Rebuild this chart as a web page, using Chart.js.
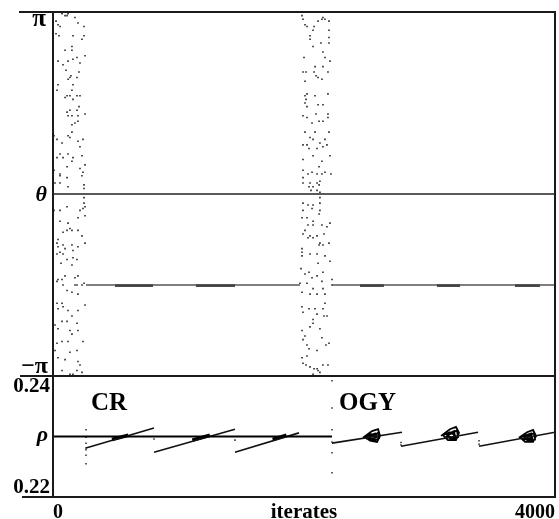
<!DOCTYPE html>
<html><head><meta charset="utf-8">
<script src="https://cdn.jsdelivr.net/npm/chart.js@4/dist/chart.umd.min.js"></script>
<style>
html,body{margin:0;padding:0;background:#fff;}
#wrap{position:relative;width:559px;height:519px;overflow:hidden;}
canvas{position:absolute;left:0;top:0;}
</style></head><body>
<div id="wrap"><canvas id="bot" width="559" height="519"></canvas><canvas id="top" width="559" height="519"></canvas></div>
<script>
// ---------------- DATA ----------------
const xTickValues = [0, 4000];
const xTickLabels = ['0', '4000'];
const xTitle = 'iterates';
const thetaTickValues = [1, 0, -1];          // theta in units of pi
const thetaTickLabels = ['π', 'θ', '−π'];
const rhoTickValues = [0.24, 0.23, 0.22];
const rhoTickLabels = ['0.24', 'ρ', '0.22'];
const phaseLabels = ['CR', 'OGY'];

// chaotic transient, theta/pi vs iterate
const thetaChaosA = [
[72,0.99],[96,0.98],[112,0.98],[120,0.99],[175,0.97],[24,0.95],[40,0.93],[56,0.92],[199,0.94],[247,0.92],
[24,0.88],[48,0.87],[159,0.87],[231,0.85],[247,0.87],[151,0.81],[151,0.79],[96,0.79],[191,0.75],[159,0.74],
[255,0.76],[40,0.73],[80,0.71],[120,0.73],[215,0.72],[104,0.68],[207,0.67],[135,0.64],[120,0.63],[191,0.64],
[143,0.65],[40,0.60],[159,0.60],[32,0.57],[151,0.57],[112,0.54],[135,0.54],[191,0.54],[215,0.54],[96,0.53],
[159,0.52],[207,0.48],[135,0.46],[191,0.46],[112,0.45],[120,0.43],[199,0.43],[255,0.44],[151,0.43],[199,0.40],
[175,0.39],[151,0.38],[151,0.34],[120,0.32],[135,0.31],[8,0.32],[32,0.30],[72,0.28],[199,0.29],[239,0.30],
[215,0.26],[56,0.22],[120,0.22],[231,0.21],[32,0.20],[80,0.20],[159,0.20],[151,0.18],[112,0.15],[255,0.16],
[215,0.14],[8,0.13],[239,0.12],[56,0.11],[56,0.10],[231,0.10],[112,0.09],[16,0.06],[56,0.06],[247,0.05],
[120,0.04],[247,0.03],[247,-0.02],[247,-0.05],[112,-0.07],[255,-0.07],[8,-0.09],[239,-0.08],[215,-0.09],[56,-0.09],
[255,-0.12],[199,-0.13],[56,-0.15],[120,-0.16],[135,-0.19],[112,-0.20],[199,-0.20],[151,-0.20],[80,-0.21],[231,-0.23],
[40,-0.25],[32,-0.27],[255,-0.27],[151,-0.28],[80,-0.28],[199,-0.29],[40,-0.29],[96,-0.30],[159,-0.31],[56,-0.32],
[80,-0.33],[32,-0.33],[64,-0.38],[112,-0.36],[159,-0.35],[191,-0.36],[151,-0.39],[40,-0.47],[72,-0.47],[32,-0.48],
[96,-0.45],[175,-0.46],[199,-0.45],[80,-0.50],[175,-0.50],[191,-0.50],[231,-0.50],[247,-0.49],[112,-0.53],[151,-0.54],
[199,-0.55],[32,-0.60],[72,-0.60],[80,-0.62],[40,-0.63],[120,-0.64],[255,-0.61],[199,-0.64],[151,-0.67],[16,-0.72],
[72,-0.70],[112,-0.70],[191,-0.71],[40,-0.74],[135,-0.75],[199,-0.75],[151,-0.77],[72,-0.81],[120,-0.81],[32,-0.82],
[239,-0.81],[16,-0.86],[135,-0.87],[191,-0.86],[40,-0.90],[96,-0.91],[199,-0.92],[215,-0.94],[72,-0.97],[191,-0.97],
[231,-0.98],[135,-0.99],[159,-0.99]
];
const thetaChaosB = [
[1984,0.98],[1992,0.96],[2112,0.95],[2151,0.97],[2167,0.96],[2143,0.96],[2199,0.95],[2008,0.93],[2024,0.92],[2080,0.92],
[2072,0.90],[2199,0.90],[2048,0.87],[2199,0.86],[2048,0.85],[2135,0.83],[2199,0.83],[2072,0.81],[2151,0.78],[2167,0.75],
[2000,0.75],[2207,0.73],[2088,0.70],[2151,0.70],[1992,0.67],[2016,0.67],[2080,0.67],[2191,0.67],[2096,0.65],[2112,0.64],
[2008,0.62],[2143,0.63],[2008,0.54],[2024,0.55],[2088,0.54],[2191,0.55],[2016,0.52],[2008,0.50],[2112,0.49],[2151,0.49],
[2024,0.48],[2191,0.44],[2096,0.44],[1992,0.43],[2024,0.42],[2191,0.42],[2064,0.39],[2120,0.40],[2151,0.40],[2008,0.34],
[2088,0.34],[2199,0.34],[2048,0.31],[2072,0.30],[2167,0.30],[2127,0.28],[2151,0.26],[1992,0.27],[2024,0.27],[2183,0.27],
[2040,0.25],[2104,0.25],[2072,0.21],[2207,0.21],[1992,0.19],[2143,0.18],[2120,0.15],[1992,0.13],[2032,0.11],[2064,0.12],
[2104,0.11],[2143,0.11],[2167,0.12],[2215,0.11],[1992,0.09],[2048,0.06],[2127,0.07],[1992,0.06],[2040,0.04],[2072,0.04],
[2104,0.06],[2120,0.05],[2056,0.02],[2104,0.02],[2127,0.01],[2127,-0.02],[1992,-0.05],[2032,-0.06],[2072,-0.06],[2127,-0.05],
[1992,-0.09],[2064,-0.08],[2127,-0.09],[2120,-0.11],[1984,-0.13],[2024,-0.13],[2072,-0.15],[2032,-0.17],[2072,-0.17],[2143,-0.17],
[2183,-0.18],[2207,-0.16],[2008,-0.20],[1992,-0.22],[2048,-0.23],[2104,-0.23],[2159,-0.22],[2032,-0.24],[2072,-0.24],[2127,-0.27],
[2199,-0.27],[2120,-0.28],[2151,-0.28],[1984,-0.30],[1984,-0.32],[2048,-0.33],[2104,-0.33],[1984,-0.34],[2167,-0.34],[2207,-0.37],
[2112,-0.38],[1976,-0.41],[2040,-0.43],[2151,-0.43],[2008,-0.44],[2104,-0.45],[2064,-0.46],[2143,-0.48],[2223,-0.47],[1968,-0.49],
[2024,-0.49],[2072,-0.52],[2151,-0.52],[2223,-0.50],[1984,-0.54],[2048,-0.55],[2104,-0.55],[2167,-0.55],[2167,-0.60],[1984,-0.62],
[2040,-0.63],[2088,-0.63],[2151,-0.63],[1992,-0.65],[2104,-0.66],[2159,-0.67],[2183,-0.67],[2072,-0.69],[2072,-0.71],[2127,-0.74],
[2048,-0.73],[1984,-0.75],[2008,-0.78],[2143,-0.79],[1992,-0.80],[2024,-0.83],[2040,-0.85],[2175,-0.83],[2199,-0.82],[2104,-0.86],
[1984,-0.90],[2024,-0.89],[1992,-0.93],[2016,-0.94],[2048,-0.95],[2080,-0.96],[2104,-0.96],[2112,-0.97],[2151,-0.94],[2191,-0.94],
[2072,-0.99],[2127,-0.98]
];
// controlled theta (units of pi)
const thetaLocked = [[263,-0.5],[1968,-0.5],null,[2223,-0.5],[4000,-0.5]];
const thetaLockedDense = [[494,-0.503],[797,-0.503],null,[1139,-0.503],[1450,-0.503],null,
  [2446,-0.503],[2637,-0.503],null,[3059,-0.503],[3243,-0.503],null,[3681,-0.503],[3880,-0.503]];

// rho
const rhoTarget = [[0,0.23],[2223,0.23]];
const rhoCR = [[263,0.2281],[805,0.2314],null,[805,0.2274],[1450,0.2312],null,[1450,0.2274],[1960,0.2306]];
const rhoCRDense = [[470,0.2295],[600,0.2302],null,[1110,0.2294],[1250,0.2302],null,[1750,0.2295],[1860,0.2302]];
const rhoOGY = [[2223,0.2289],[2781,0.2307],null,[2773,0.2284],[3387,0.2307],null,[3395,0.2284],[4000,0.2307]];
const rhoOGYLoopA = [[2470,0.2298],[2542,0.2309],[2590,0.2312],[2606,0.2301],[2582,0.2291],[2526,0.2293],[2486,0.2299],[2534,0.2304],[2574,0.2303],[2558,0.2294],[2510,0.2296],[2542,0.2301],[2590,0.2306],[2598,0.2297],[2550,0.2292],[2520,0.2300],[2566,0.2305],[2580,0.2299],[2540,0.2296]];
const rhoOGYLoopB = [[3092,0.2301],[3163,0.2312],[3211,0.2316],[3235,0.2306],[3211,0.2294],[3147,0.2294],[3108,0.2302],[3163,0.2307],[3203,0.2302],[3179,0.2298],[3131,0.2299],[3163,0.2304],[3219,0.2310],[3227,0.2299],[3171,0.2295],[3139,0.2303],[3195,0.2309],[3205,0.2297],[3155,0.2300]];
const rhoOGYLoopC = [[3713,0.2298],[3777,0.2307],[3825,0.2311],[3849,0.2301],[3825,0.2291],[3761,0.2291],[3721,0.2299],[3777,0.2302],[3817,0.2299],[3793,0.2294],[3745,0.2296],[3777,0.2299],[3833,0.2306],[3841,0.2295],[3785,0.2292],[3753,0.2301],[3809,0.2305],[3819,0.2296],[3769,0.2297]];
const rhoDots = [[263,0.2311],[263,0.2299],[263,0.2289],[263,0.2281],[263,0.2278],[263,0.2269],[263,0.2255],
  [805,0.2296],[1450,0.2294],
  [2223,0.2392],[2223,0.2347],[2223,0.2311],[2223,0.2291],[2223,0.2273],[2223,0.2240],
  [2773,0.2290],[2773,0.2286],[3395,0.2293],[3395,0.2287]];

// ------------- placement (not data) -------------
const phasePos = [{iter:303, rho:0.2344}, {iter:2279, rho:0.2344}];

// ---------------- helpers ----------------
function toPts(arr){
  const out=[]; let lastX=0;
  for(const p of arr){ if(p===null){ out.push({x:lastX, y:null}); } else { lastX=p[0]; out.push({x:p[0], y:p[1]}); } }
  return out;
}
function seg(ctx,x1,y1,x2,y2){ ctx.beginPath(); ctx.moveTo(x1,y1); ctx.lineTo(x2,y2); ctx.stroke(); }
const SERIF = '"Liberation Serif", "Times New Roman", serif';
const lineDS = (arr, color, w) => ({data: toPts(arr), showLine:true, borderColor:color, borderWidth:w, pointRadius:0, spanGaps:false, tension:0, fill:false});
const dotDS = (arr, color, r) => ({data: toPts(arr), showLine:false, pointStyle:'rect', pointRadius:r, backgroundColor:color, borderWidth:0});

// ---------------- TOP PANEL ----------------
const topDecor = {
  id:'topDecor',
  afterDraw(chart){
    const {ctx, chartArea:a, scales:{y}} = chart;
    ctx.save();
    ctx.strokeStyle='#1a1a1a'; ctx.lineWidth=2;
    seg(ctx, a.left-34, a.top, a.right, a.top);
    seg(ctx, a.left, a.top-1, a.left, a.bottom);
    seg(ctx, a.right, a.top-1, a.right, a.bottom);
    ctx.lineWidth=1.5; ctx.strokeStyle='#222';
    const y0 = y.getPixelForValue(thetaTickValues[1]);
    seg(ctx, a.left, y0, a.right, y0);
    ctx.fillStyle='#000'; ctx.textAlign='right'; ctx.textBaseline='alphabetic';
    ctx.font='bold 25px '+SERIF;
    ctx.fillText(thetaTickLabels[0], a.left-7, y.getPixelForValue(thetaTickValues[0])+14);
    ctx.font='italic bold 22px '+SERIF;
    ctx.fillText(thetaTickLabels[1], a.left-6, y0+7);
    ctx.font='bold 24px '+SERIF;
    ctx.fillText(thetaTickLabels[2], a.left-5, y.getPixelForValue(thetaTickValues[2])-3);
    ctx.restore();
  }
};
new Chart(document.getElementById('top'), {
  type:'scatter',
  data:{datasets:[
    lineDS(thetaLocked, '#555', 1.3),
    lineDS(thetaLockedDense, '#111', 2.4),
    dotDS(thetaChaosA, '#222', 1.1),
    dotDS(thetaChaosB, '#222', 1.1)
  ]},
  options:{
    responsive:false, animation:false, devicePixelRatio:1,
    layout:{padding:{left:0,right:4,top:12,bottom:143}},
    plugins:{legend:{display:false}, tooltip:{enabled:false}},
    scales:{
      x:{type:'linear', min:xTickValues[0], max:xTickValues[1], display:false},
      y:{type:'linear', min:thetaTickValues[2], max:thetaTickValues[0], ticks:{display:false}, grid:{display:false}, border:{display:false},
         afterFit(s){ s.width=53; }}
    }
  },
  plugins:[topDecor]
});

// ---------------- BOTTOM PANEL ----------------
const botDecor = {
  id:'botDecor',
  afterDraw(chart){
    const {ctx, chartArea:a, scales:{x,y}} = chart;
    ctx.save();
    ctx.strokeStyle='#1a1a1a'; ctx.lineWidth=2;
    seg(ctx, a.left-33, a.top, a.right, a.top);
    seg(ctx, a.left-31, a.bottom, a.right+1, a.bottom);
    seg(ctx, a.left, a.top, a.left, a.bottom);
    seg(ctx, a.right, a.top, a.right, a.bottom);
    ctx.fillStyle='#000'; ctx.textAlign='right'; ctx.textBaseline='alphabetic';
    ctx.font='bold 21px '+SERIF;
    ctx.fillText(rhoTickLabels[0], a.left-3, y.getPixelForValue(rhoTickValues[0])+16);
    ctx.fillText(rhoTickLabels[2], a.left-3, y.getPixelForValue(rhoTickValues[2])-4);
    ctx.font='italic bold 22px '+SERIF;
    ctx.fillText(rhoTickLabels[1], a.left-5, y.getPixelForValue(rhoTickValues[1])+4);
    ctx.font='bold 20px '+SERIF;
    const by = a.bottom+21;
    ctx.textAlign='left'; ctx.fillText(xTickLabels[0], x.getPixelForValue(xTickValues[0]), by);
    ctx.textAlign='right'; ctx.fillText(xTickLabels[1], x.getPixelForValue(xTickValues[1]), by);
    ctx.textAlign='center'; ctx.font='bold 21px '+SERIF;
    ctx.fillText(xTitle, (a.left+a.right)/2, by);
    ctx.font='bold 25px '+SERIF; ctx.textAlign='left';
    phaseLabels.forEach((t,i)=>{ ctx.fillText(t, x.getPixelForValue(phasePos[i].iter), y.getPixelForValue(phasePos[i].rho)); });
    ctx.restore();
  }
};
new Chart(document.getElementById('bot'), {
  type:'scatter',
  data:{datasets:[
    lineDS(rhoTarget, '#000', 2),
    lineDS(rhoCR, '#111', 1.6),
    lineDS(rhoCRDense, '#000', 3.5),
    lineDS(rhoOGY, '#111', 1.6),
    lineDS(rhoOGYLoopA, '#000', 1.8),
    lineDS(rhoOGYLoopB, '#000', 1.8),
    lineDS(rhoOGYLoopC, '#000', 1.8),
    dotDS(rhoDots, '#333', 1.1)
  ]},
  options:{
    responsive:false, animation:false, devicePixelRatio:1,
    layout:{padding:{left:0,right:4,top:376,bottom:22}},
    plugins:{legend:{display:false}, tooltip:{enabled:false}},
    scales:{
      x:{type:'linear', min:xTickValues[0], max:xTickValues[1], display:false},
      y:{type:'linear', min:rhoTickValues[2], max:rhoTickValues[0], ticks:{display:false}, grid:{display:false}, border:{display:false},
         afterFit(s){ s.width=53; }}
    }
  },
  plugins:[botDecor]
});
</script>
</body></html>
